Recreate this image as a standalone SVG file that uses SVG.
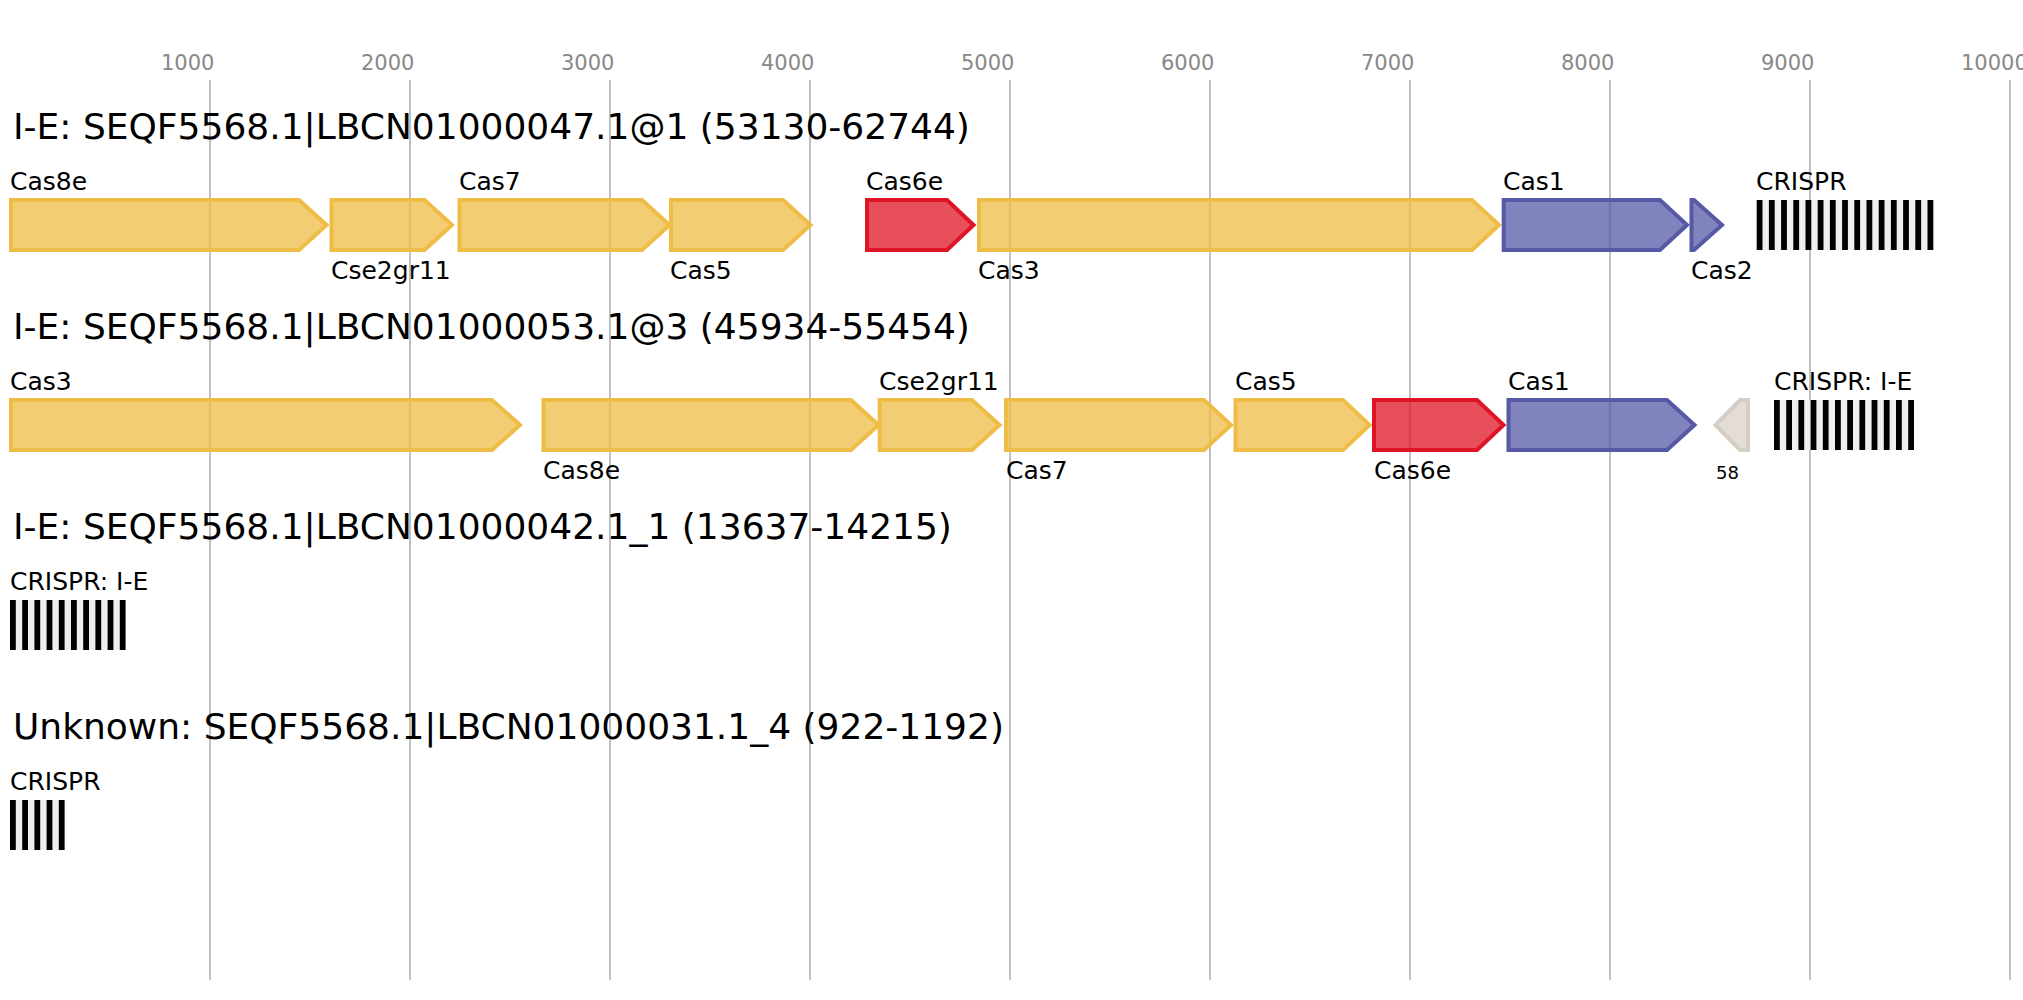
<svg xmlns="http://www.w3.org/2000/svg" width="2023" height="1000" viewBox="0 0 2023 1000">
<style>
text{font-family:"DejaVu Sans","Liberation Sans",sans-serif;fill:#000}
.tick{font-size:21px;fill:#888}
.title{font-size:36px}
.lbl{font-size:25px}
.small{font-size:18px}
.grid{stroke:#c0c0c0;stroke-width:2}
.g{stroke-width:4;fill-opacity:0.75}
.y{fill:#efbc45;stroke:#efbc45}
.r{fill:#df1424;stroke:#df1424}
.b{fill:#5659a6;stroke:#5659a6}
.n{fill:#d9d0c9;stroke:#d6cdc5}
.arr{fill:#efefef}
.rep{fill:#000}
</style>
<rect width="2023" height="1000" fill="#fff"/>
<g id="axis">
<g class="grid">
<line x1="210" y1="80" x2="210" y2="980"/>
<line x1="410" y1="80" x2="410" y2="980"/>
<line x1="610" y1="80" x2="610" y2="980"/>
<line x1="810" y1="80" x2="810" y2="980"/>
<line x1="1010" y1="80" x2="1010" y2="980"/>
<line x1="1210" y1="80" x2="1210" y2="980"/>
<line x1="1410" y1="80" x2="1410" y2="980"/>
<line x1="1610" y1="80" x2="1610" y2="980"/>
<line x1="1810" y1="80" x2="1810" y2="980"/>
<line x1="2010" y1="80" x2="2010" y2="980"/>
</g>
<text class="tick" x="161" y="70">1000</text>
<text class="tick" x="361" y="70">2000</text>
<text class="tick" x="561" y="70">3000</text>
<text class="tick" x="761" y="70">4000</text>
<text class="tick" x="961" y="70">5000</text>
<text class="tick" x="1161" y="70">6000</text>
<text class="tick" x="1361" y="70">7000</text>
<text class="tick" x="1561" y="70">8000</text>
<text class="tick" x="1761" y="70">9000</text>
<text class="tick" x="1961" y="70">10000</text>
</g>
<g id="connectors"/>

<g id="row1">
<text class="title" x="13" y="139">I-E: SEQF5568.1|LBCN01000047.1@1 (53130-62744)</text>
<g id="r1-cas8e"><polygon class="g y" points="11,200 299,200 326.5,225 299,250 11,250"/><text class="lbl" x="10" y="190">Cas8e</text></g>
<g id="r1-cse2gr11"><polygon class="g y" points="331.5,200 424.5,200 452,225 424.5,250 331.5,250"/><text class="lbl" x="331" y="279">Cse2gr11</text></g>
<g id="r1-cas7"><polygon class="g y" points="459.5,200 642,200 669.5,225 642,250 459.5,250"/><text class="lbl" x="459" y="190">Cas7</text></g>
<g id="r1-cas5"><polygon class="g y" points="671,200 783,200 810.5,225 783,250 671,250"/><text class="lbl" x="670" y="279">Cas5</text></g>
<g id="r1-cas6e"><polygon class="g r" points="867,200 947,200 973.5,225 947,250 867,250"/><text class="lbl" x="866" y="190">Cas6e</text></g>
<g id="r1-cas3"><polygon class="g y" points="979,200 1472,200 1499,225 1472,250 979,250"/><text class="lbl" x="978" y="279">Cas3</text></g>
<g id="r1-cas1"><polygon class="g b" points="1503.7,200 1660,200 1687,225 1660,250 1503.7,250"/><text class="lbl" x="1503" y="190">Cas1</text></g>
<g id="r1-cas2"><polygon class="g b" points="1691.5,200 1694,200 1722,225 1694,250 1691.5,250"/><text class="lbl" x="1691" y="279">Cas2</text></g>
<g id="r1-crispr">
<rect class="arr" x="1756.7" y="200" width="176.6" height="50"/>
<g class="rep">
<rect x="1756.7" y="200" width="5.8" height="50"/><rect x="1768.9" y="200" width="5.8" height="50"/><rect x="1781.1" y="200" width="5.8" height="50"/><rect x="1793.3" y="200" width="5.8" height="50"/><rect x="1805.5" y="200" width="5.8" height="50"/><rect x="1817.7" y="200" width="5.8" height="50"/><rect x="1829.9" y="200" width="5.8" height="50"/><rect x="1842.1" y="200" width="5.8" height="50"/><rect x="1854.3" y="200" width="5.8" height="50"/><rect x="1866.5" y="200" width="5.8" height="50"/><rect x="1878.7" y="200" width="5.8" height="50"/><rect x="1890.9" y="200" width="5.8" height="50"/><rect x="1903.1" y="200" width="5.8" height="50"/><rect x="1915.3" y="200" width="5.8" height="50"/><rect x="1927.5" y="200" width="5.8" height="50"/>
</g>
<text class="lbl" x="1756" y="190">CRISPR</text>
</g>
</g>

<g id="row2">
<text class="title" x="13" y="339">I-E: SEQF5568.1|LBCN01000053.1@3 (45934-55454)</text>
<g id="r2-cas3"><polygon class="g y" points="11,400 492,400 520,425 492,450 11,450"/><text class="lbl" x="10" y="390">Cas3</text></g>
<g id="r2-cas8e"><polygon class="g y" points="543.5,400 851,400 878.5,425 851,450 543.5,450"/><text class="lbl" x="543" y="479">Cas8e</text></g>
<g id="r2-cse2gr11"><polygon class="g y" points="879.7,400 972,400 999.5,425 972,450 879.7,450"/><text class="lbl" x="879" y="390">Cse2gr11</text></g>
<g id="r2-cas7"><polygon class="g y" points="1006,400 1204,400 1231,425 1204,450 1006,450"/><text class="lbl" x="1006" y="479">Cas7</text></g>
<g id="r2-cas5"><polygon class="g y" points="1235.5,400 1343,400 1369.5,425 1343,450 1235.5,450"/><text class="lbl" x="1235" y="390">Cas5</text></g>
<g id="r2-cas6e"><polygon class="g r" points="1374,400 1477,400 1503.5,425 1477,450 1374,450"/><text class="lbl" x="1374" y="479">Cas6e</text></g>
<g id="r2-cas1"><polygon class="g b" points="1508.5,400 1667,400 1694.5,425 1667,450 1508.5,450"/><text class="lbl" x="1508" y="390">Cas1</text></g>
<g id="r2-58"><polygon class="g n" points="1748,400 1740,400 1715.5,425 1740,450 1748,450"/><text class="small" x="1716" y="479">58</text></g>
<g id="r2-crispr">
<rect class="arr" x="1774" y="400" width="140" height="50"/>
<g class="rep">
<rect x="1774" y="400" width="5.8" height="50"/><rect x="1786.2" y="400" width="5.8" height="50"/><rect x="1798.4" y="400" width="5.8" height="50"/><rect x="1810.6" y="400" width="5.8" height="50"/><rect x="1822.8" y="400" width="5.8" height="50"/><rect x="1835" y="400" width="5.8" height="50"/><rect x="1847.2" y="400" width="5.8" height="50"/><rect x="1859.4" y="400" width="5.8" height="50"/><rect x="1871.6" y="400" width="5.8" height="50"/><rect x="1883.8" y="400" width="5.8" height="50"/><rect x="1896" y="400" width="5.8" height="50"/><rect x="1908.2" y="400" width="5.8" height="50"/>
</g>
<text class="lbl" x="1774" y="390">CRISPR: I-E</text>
</g>
</g>

<g id="row3">
<text class="title" x="13" y="539">I-E: SEQF5568.1|LBCN01000042.1_1 (13637-14215)</text>
<g id="r3-crispr">
<rect class="arr" x="10" y="600" width="115.6" height="50"/>
<g class="rep">
<rect x="10" y="600" width="5.8" height="50"/><rect x="22.2" y="600" width="5.8" height="50"/><rect x="34.4" y="600" width="5.8" height="50"/><rect x="46.6" y="600" width="5.8" height="50"/><rect x="58.8" y="600" width="5.8" height="50"/><rect x="71" y="600" width="5.8" height="50"/><rect x="83.2" y="600" width="5.8" height="50"/><rect x="95.4" y="600" width="5.8" height="50"/><rect x="107.6" y="600" width="5.8" height="50"/><rect x="119.8" y="600" width="5.8" height="50"/>
</g>
<text class="lbl" x="10" y="590">CRISPR: I-E</text>
</g>
</g>

<g id="row4">
<text class="title" x="13" y="739">Unknown: SEQF5568.1|LBCN01000031.1_4 (922-1192)</text>
<g id="r4-crispr">
<rect class="arr" x="10" y="800" width="54.6" height="50"/>
<g class="rep">
<rect x="10" y="800" width="5.8" height="50"/><rect x="22.2" y="800" width="5.8" height="50"/><rect x="34.4" y="800" width="5.8" height="50"/><rect x="46.6" y="800" width="5.8" height="50"/><rect x="58.8" y="800" width="5.8" height="50"/>
</g>
<text class="lbl" x="10" y="790">CRISPR</text>
</g>
</g>
</svg>
